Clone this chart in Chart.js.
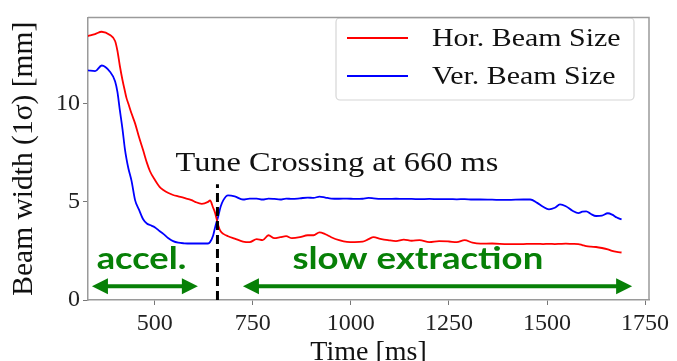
<!DOCTYPE html>
<html>
<head>
<meta charset="utf-8">
<script src="https://cdn.jsdelivr.net/npm/chart.js"></script>
<style>
  html, body { margin: 0; padding: 0; background: #fff; }
</style>
</head>
<body>
<canvas id="c" width="677" height="361"></canvas>
<script>
// time axis [ms]
const timeMs = [330, 348, 365, 386, 399, 405, 411, 418, 424, 428, 433, 441, 450, 460, 471, 480, 488, 501, 513, 522, 535, 547, 560, 575, 594, 603, 620, 636, 641, 649, 654, 662, 668, 675, 687, 704, 725, 742, 760, 775, 790, 805, 820, 835, 850, 870, 890, 905, 920, 935, 950, 970, 990, 1010, 1030, 1045, 1058, 1075, 1095, 1115, 1135, 1155, 1175, 1200, 1225, 1250, 1270, 1290, 1310, 1330, 1360, 1400, 1440, 1457, 1475, 1490, 1505, 1520, 1533, 1548, 1565, 1580, 1590, 1600, 1612, 1625, 1640, 1655, 1666, 1678, 1690];

// beam width 1 sigma [mm]
const horSize = [13.45, 13.55, 13.67, 13.5, 13.2, 12.7, 11.95, 11.2, 10.65, 10.3, 10.0, 9.5, 9.0, 8.3, 7.6, 7.0, 6.56, 6.1, 5.75, 5.6, 5.45, 5.35, 5.28, 5.2, 5.09, 5.0, 4.9, 5.0, 5.07, 4.7, 4.44, 3.8, 3.5, 3.37, 3.25, 3.13, 2.98, 2.95, 3.1, 3.05, 3.3, 3.15, 3.2, 3.25, 3.15, 3.2, 3.3, 3.3, 3.45, 3.35, 3.2, 3.05, 2.96, 2.95, 2.97, 3.1, 3.2, 3.12, 3.05, 3.0, 3.08, 3.02, 3.05, 2.95, 3.0, 2.98, 2.95, 3.05, 2.92, 2.87, 2.88, 2.85, 2.85, 2.86, 2.86, 2.85, 2.86, 2.85, 2.86, 2.87, 2.86, 2.85, 2.8, 2.75, 2.72, 2.7, 2.65, 2.58, 2.5, 2.45, 2.42];
const verSize = [11.7, 11.66, 11.95, 11.63, 11.15, 10.6, 9.7, 8.7, 7.7, 7.2, 6.7, 6.07, 5.09, 4.6, 4.1, 3.9, 3.82, 3.7, 3.5, 3.37, 3.15, 3.0, 2.92, 2.89, 2.88, 2.88, 2.88, 2.88, 2.95, 3.29, 3.7, 4.27, 4.75, 5.09, 5.33, 5.28, 5.12, 5.17, 5.17, 5.12, 5.17, 5.15, 5.12, 5.17, 5.15, 5.18, 5.22, 5.2, 5.27, 5.22, 5.17, 5.16, 5.17, 5.15, 5.16, 5.2, 5.18, 5.15, 5.15, 5.16, 5.15, 5.15, 5.14, 5.15, 5.14, 5.14, 5.13, 5.14, 5.12, 5.12, 5.11, 5.1, 5.12, 5.12, 4.95, 4.75, 4.62, 4.7, 4.87, 4.78, 4.55, 4.43, 4.5, 4.52, 4.38, 4.28, 4.3, 4.42, 4.35, 4.2, 4.1];

const seriesLabels = ["Hor. Beam Size", "Ver. Beam Size"];
const xTicks = [500, 750, 1000, 1250, 1500, 1750];
const yTicks = [0, 5, 10];

// annotations
const tuneCrossingMs = 660;
const tuneLabel = "Tune Crossing at 660 ms";
const phaseLabels = ["accel.", "slow extraction"];
const phaseArrows = [[340, 610], [725, 1717]];

const serif = "'Liberation Serif', 'Times New Roman', serif";
const green = "#078007";

const framePlugin = {
  id: "frame",
  afterDraw(chart) {
    const { ctx, chartArea: a } = chart;
    ctx.save();
    ctx.strokeStyle = "#9a9a9a";
    ctx.lineWidth = 1.5;
    ctx.beginPath();
    ctx.moveTo(a.left, a.top);
    ctx.lineTo(a.right, a.top);
    ctx.lineTo(a.right, a.bottom);
    ctx.stroke();
    ctx.restore();
  }
};

function drawArrow(ctx, x1, x2, y) {
  const head = 16, half = 8;
  ctx.beginPath();
  ctx.moveTo(x1 + head - 2, y);
  ctx.lineTo(x2 - head + 2, y);
  ctx.stroke();
  ctx.beginPath();
  ctx.moveTo(x1, y);
  ctx.lineTo(x1 + head, y - half);
  ctx.lineTo(x1 + head, y + half);
  ctx.closePath();
  ctx.fill();
  ctx.beginPath();
  ctx.moveTo(x2, y);
  ctx.lineTo(x2 - head, y - half);
  ctx.lineTo(x2 - head, y + half);
  ctx.closePath();
  ctx.fill();
}

function stretchedText(ctx, text, x, y, sx) {
  ctx.save();
  ctx.translate(x, y);
  ctx.scale(sx, 1);
  ctx.fillText(text, 0, 0);
  ctx.restore();
}

const notesPlugin = {
  id: "notes",
  afterDatasetsDraw(chart) {
    const { ctx } = chart;
    const xs = chart.scales.x, ys = chart.scales.y;
    ctx.save();

    // tune crossing marker
    const xc = xs.getPixelForValue(tuneCrossingMs);
    ctx.strokeStyle = "#000";
    ctx.lineWidth = 3;
    ctx.setLineDash([9, 5]);
    ctx.beginPath();
    ctx.moveTo(xc, ys.getPixelForValue(0));
    ctx.lineTo(xc, ys.getPixelForValue(5.9));
    ctx.stroke();
    ctx.setLineDash([]);

    ctx.fillStyle = "#111";
    ctx.font = "27px " + serif;
    ctx.textBaseline = "alphabetic";
    stretchedText(ctx, tuneLabel, xs.getPixelForValue(553), ys.getPixelForValue(6.55), 1.2);

    // phases
    ctx.fillStyle = green;
    ctx.strokeStyle = green;
    ctx.lineWidth = 4;
    ctx.font = "bold 31px Lato, 'Open Sans', sans-serif";
    stretchedText(ctx, phaseLabels[0], xs.getPixelForValue(352), ys.getPixelForValue(1.6), 1.17);
    stretchedText(ctx, phaseLabels[1], xs.getPixelForValue(851), ys.getPixelForValue(1.6), 1.18);
    const ya = ys.getPixelForValue(0.7);
    phaseArrows.forEach(([a, b]) => drawArrow(ctx, xs.getPixelForValue(a), xs.getPixelForValue(b), ya));

    // legend box
    const bx = 336, by = 18, bw = 298, bh = 82;
    ctx.fillStyle = "rgba(255,255,255,0.85)";
    ctx.strokeStyle = "#d6d6d6";
    ctx.lineWidth = 1.2;
    ctx.beginPath();
    ctx.roundRect(bx, by, bw, bh, 4);
    ctx.fill();
    ctx.stroke();
    ctx.font = "26px " + serif;
    ctx.textBaseline = "middle";
    chart.data.datasets.forEach((ds, i) => {
      const y = 38 + i * 38;
      ctx.strokeStyle = ds.borderColor;
      ctx.lineWidth = 1.8;
      ctx.beginPath();
      ctx.moveTo(347, y);
      ctx.lineTo(408, y);
      ctx.stroke();
      ctx.fillStyle = "#111";
      stretchedText(ctx, ds.label, 432, y + 1, 1.15);
    });
    ctx.restore();
  }
};

const axisFont = { family: serif, size: 24 };

new Chart(document.getElementById("c"), {
  type: "line",
  data: {
    datasets: [
      {
        label: seriesLabels[0],
        data: timeMs.map((t, i) => ({ x: t, y: horSize[i] })),
        borderColor: "#ff0000",
        borderWidth: 1.8,
        pointRadius: 0,
        cubicInterpolationMode: "monotone",
        fill: false
      },
      {
        label: seriesLabels[1],
        data: timeMs.map((t, i) => ({ x: t, y: verSize[i] })),
        borderColor: "#0000ff",
        borderWidth: 1.8,
        pointRadius: 0,
        cubicInterpolationMode: "monotone",
        fill: false
      }
    ]
  },
  options: {
    responsive: false,
    devicePixelRatio: 1,
    animation: false,
    layout: { padding: { top: 6, right: 28, left: 0, bottom: 0 } },
    plugins: { legend: { display: false }, tooltip: { enabled: false } },
    scales: {
      x: {
        type: "linear",
        min: 330,
        max: 1760,
        afterBuildTicks: (s) => { s.ticks = xTicks.map((v) => ({ value: v })); },
        afterFit: (s) => { s.height = 61; },
        ticks: { font: axisFont, color: "#222", padding: 4, maxRotation: 0, autoSkip: false, callback: (v) => String(v) },
        grid: { drawOnChartArea: false, drawTicks: true, tickLength: 5, color: "#777" },
        border: { display: true, color: "#9a9a9a", width: 1.5 },
        title: {
          display: true,
          text: "Time [ms]",
          color: "#111",
          font: { family: serif, size: 28, lineHeight: 1 },
          padding: { top: 0, bottom: -6 }
        }
      },
      y: {
        min: 0,
        max: 14.4,
        afterBuildTicks: (s) => { s.ticks = yTicks.map((v) => ({ value: v })); },
        afterFit: (s) => { s.width = 88; },
        ticks: { font: axisFont, color: "#222", padding: 3, callback: (v) => String(v) },
        grid: { drawOnChartArea: false, drawTicks: true, tickLength: 5, color: "#777" },
        border: { display: true, color: "#9a9a9a", width: 1.5 },
        title: {
          display: true,
          text: "Beam width (1σ) [mm]",
          color: "#111",
          font: { family: serif, size: 29.5, lineHeight: 1 },
          padding: { top: 9, bottom: 0 }
        }
      }
    }
  },
  plugins: [framePlugin, notesPlugin]
});
</script>
</body>
</html>
